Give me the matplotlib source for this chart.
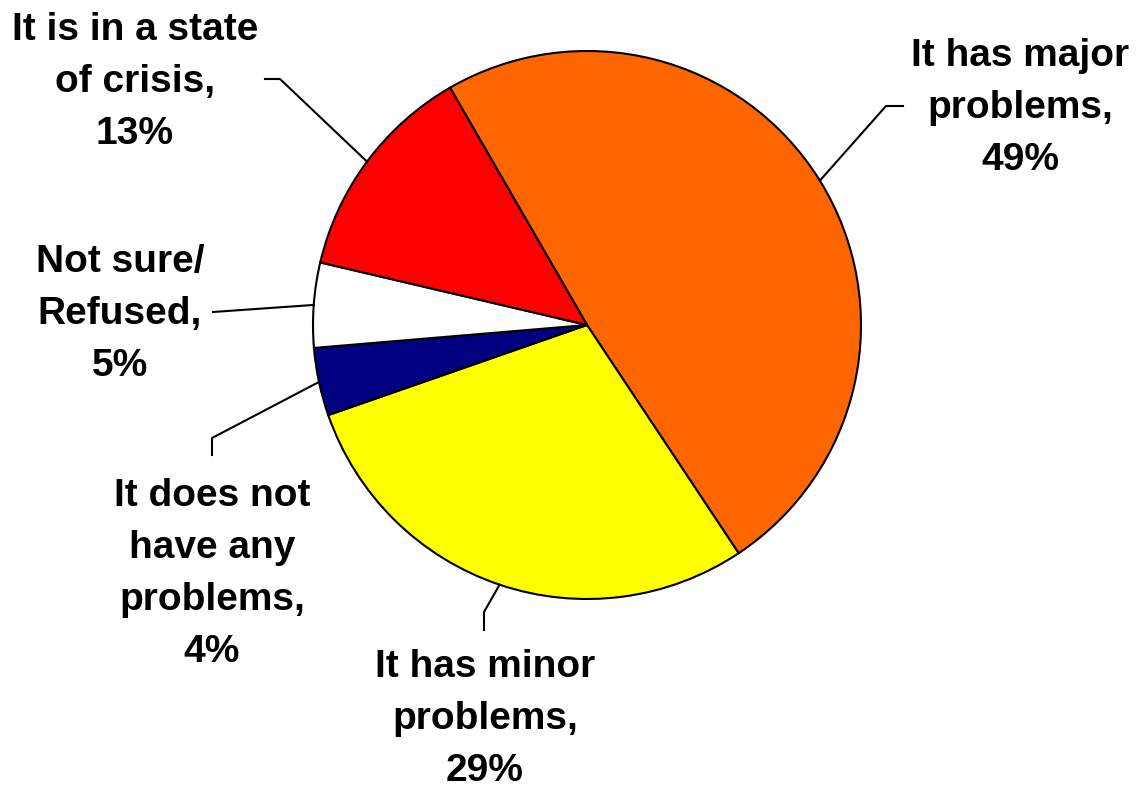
import numpy as np
import matplotlib.pyplot as plt

# Survey answers, in the order the slices run clockwise
labels = ['It has major\nproblems,', 'It has minor\nproblems,',
          'It does not\nhave any\nproblems,', 'Not sure/\nRefused,',
          'It is in a state\nof crisis,']
shares = [49, 29, 4, 5, 13]
colors = ['#FF6600', '#FFFF00', '#000080', '#FFFFFF', '#FF0000']

W, H = 1139, 789
CENTER = (587, 325)     # pixel coords, y down
RADIUS = 274
START = 120

# label centre and elbow of the leader line, in pixel coords
label_pos = [(1020, 108), (485, 719), (212, 574), (120, 314), (135, 82)]
elbows = [[(886, 106), (903, 106)],
          [(484, 612), (484, 630)],
          [(212, 438), (212, 455)],
          [(213, 312)],
          [(280, 79), (265, 79)]]


def px(x, y):
    return x, H - y


fig = plt.figure(figsize=(W / 100, H / 100), dpi=100)
ax = fig.add_axes([0, 0, 1, 1])

wedges, _ = ax.pie(shares, colors=colors, startangle=START, counterclock=False,
                   center=px(*CENTER), radius=RADIUS, frame=True,
                   wedgeprops=dict(edgecolor='black', linewidth=1.5))
ax.set_xlim(0, W)
ax.set_ylim(0, H)
ax.set_aspect('equal')
ax.axis('off')

for w, lab, share, pos, elb in zip(wedges, labels, shares, label_pos, elbows):
    # leader line starts on the rim at the middle of the slice
    mid = np.deg2rad((w.theta1 + w.theta2) / 2)
    cx, cy = px(*CENTER)
    xs = [cx + RADIUS * np.cos(mid)]
    ys = [cy + RADIUS * np.sin(mid)]
    for p in elb:
        xs.append(p[0])
        ys.append(H - p[1])
    ax.plot(xs, ys, color='black', linewidth=1.5)
    ax.text(*px(*pos), f'{lab}\n{share}%', ha='center', va='center',
            fontsize=28, fontweight='bold', family='Liberation Sans',
            linespacing=1.57)

plt.savefig('out.png', dpi=100)
